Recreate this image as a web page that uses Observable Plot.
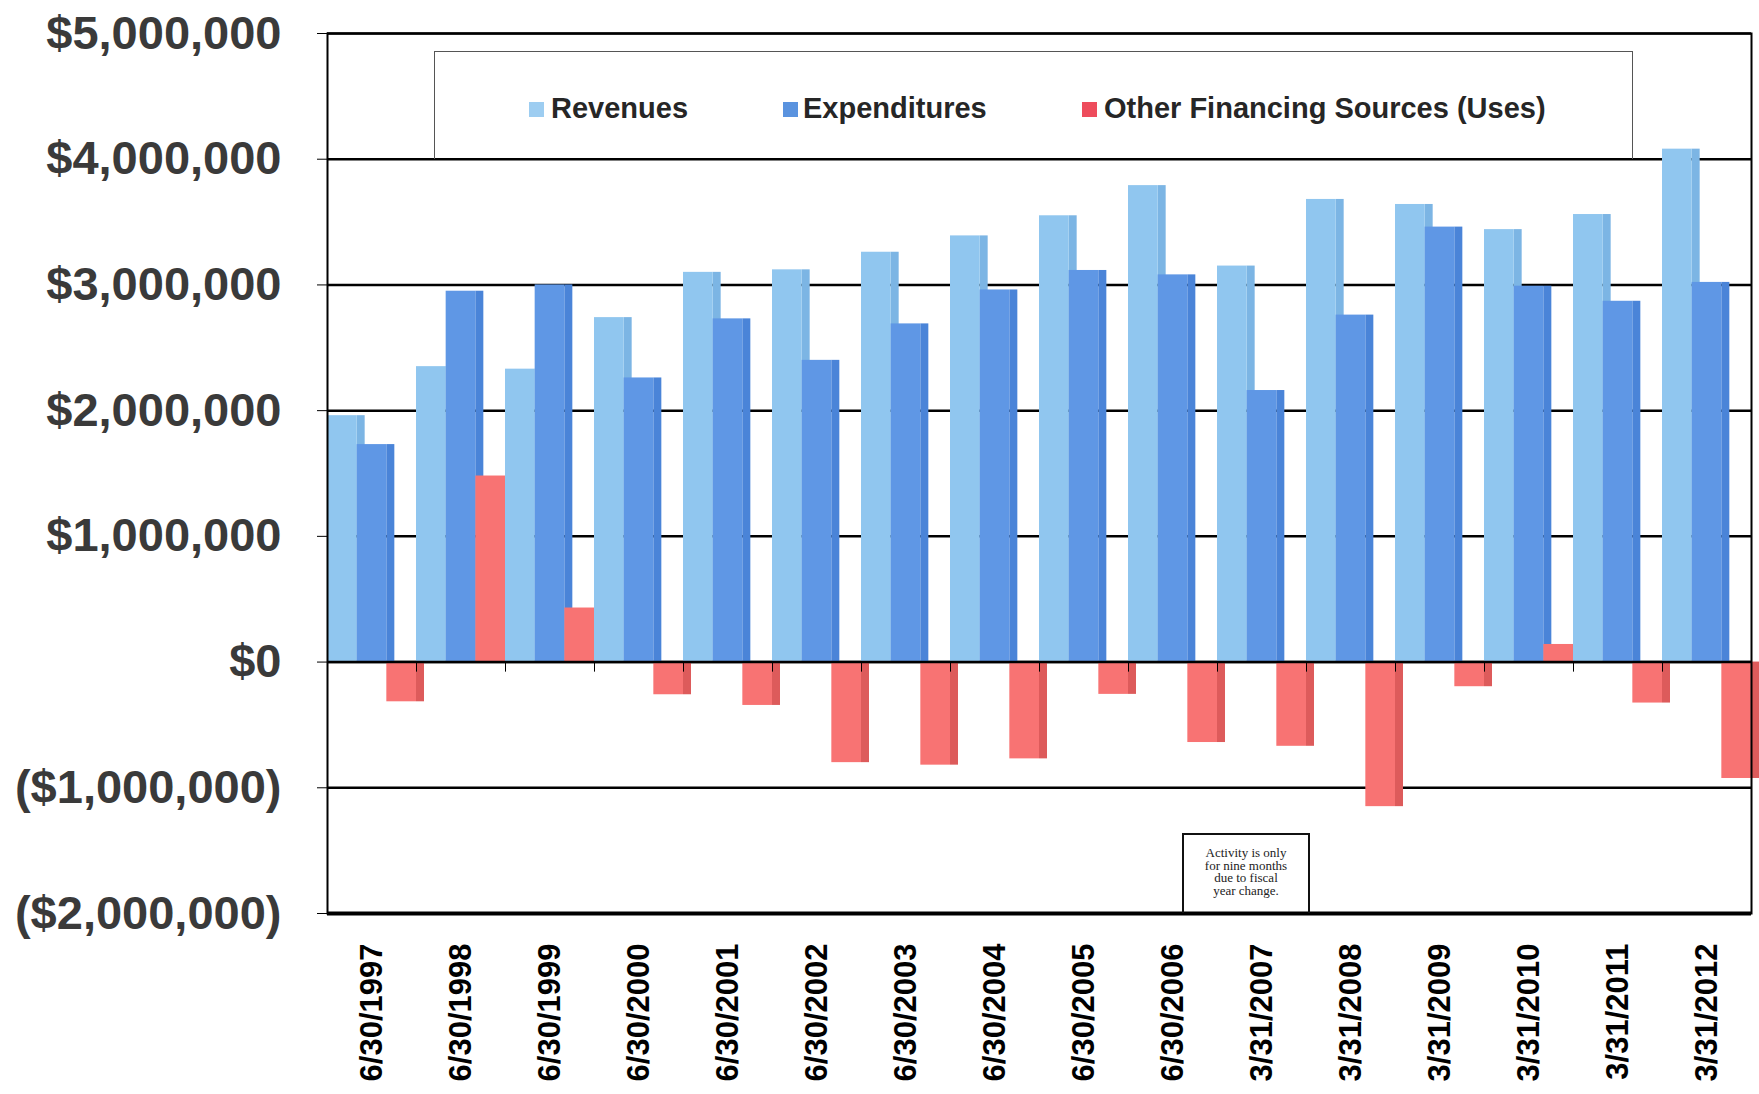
<!DOCTYPE html>
<html>
<head>
<meta charset="utf-8">
<script src="https://cdn.jsdelivr.net/npm/d3@7"></script>
<script src="https://cdn.jsdelivr.net/npm/@observablehq/plot@0.6"></script>
<style>
  body { margin: 0; background: #fff; }
  #wrap { position: relative; width: 1759px; height: 1094px; overflow: hidden; background: #fff; }
  #chart { position: absolute; left: 0; top: 0; }
  #legend { position: absolute; left: 434px; top: 51px; width: 1199px; height: 108px; border: 1.5px solid #555; border-bottom: none; box-sizing: border-box; background: transparent;
    font-family: "Liberation Sans", Arial, sans-serif; font-weight: bold; font-size: 29px; color: #262626; }
  .item { position: absolute; top: 38px; height: 36px; line-height: 36px; white-space: nowrap; }
  .sw { position: absolute; top: 50px; width: 15px; height: 15px; }
  #note { position: absolute; left: 1182px; top: 833px; width: 128px; height: 80px; border: 2px solid #111; border-bottom: none; box-sizing: border-box; background: transparent;
    font-family: "Liberation Serif", "Times New Roman", serif; font-size: 13px; line-height: 12.5px; color: #222; text-align: center; padding-top: 12px; }
  svg [aria-label="x-axis tick label"] text, svg [aria-label="y-axis tick label"] text { font-weight: bold; }
</style>
</head>
<body>
<div id="wrap">
  <div id="chart"></div>
  <div id="legend"></div>
  <div id="note">Activity is only<br>for nine months<br>due to fiscal<br>year change.</div>
</div>
<script>
const dates = ["6/30/1997","6/30/1998","6/30/1999","6/30/2000","6/30/2001","6/30/2002","6/30/2003","6/30/2004","6/30/2005","6/30/2006","3/31/2007","3/31/2008","3/31/2009","3/31/2010","3/31/2011","3/31/2012"];
const revenues = [1960000, 2350000, 2330000, 2740000, 3100000, 3120000, 3260000, 3390000, 3550000, 3790000, 3150000, 3680000, 3640000, 3440000, 3560000, 4080000];
const expenditures = [1730000, 2950000, 3000000, 2260000, 2730000, 2400000, 2690000, 2960000, 3115000, 3080000, 2160000, 2760000, 3460000, 2990000, 2870000, 3020000];
const otherFinancing = [-316000, 1480000, 430000, -260000, -345000, -800000, -820000, -770000, -257000, -640000, -670000, -1150000, -196000, 140000, -326000, -926000];
const seriesNames = ["Revenues", "Expenditures", "Other Financing Sources (Uses)"];
const frontColors = ["#90c6ef", "#5f97e5", "#f87373"];
const sideColors = ["#7cb5e4", "#4a84d8", "#dd5b5b"];
const legendColors = ["#9dcdf1", "#5a93df", "#ee4c5c"];
const yTicks = [-2000000, -1000000, 0, 1000000, 2000000, 3000000, 4000000, 5000000];

const values = [revenues, expenditures, otherFinancing];
const W = 1759, H = 1094, mL = 327, mR = 8, mT = 33, mB = 181;
const bw = (W - mL - mR) / dates.length;   // band width of one date group
const third = bw / 3;
const depth = 8;

const rows = values.map(vals => dates.map((d, i) => ({date: d, value: vals[i]})));

const fmt = d3.format(",");
const yFormat = d => d < 0 ? `($${fmt(-d)})` : `$${fmt(d)}`;

const sideMarks = rows.map((r, s) => Plot.barY(r, {x: "date", y: "value", fill: sideColors[s],
  insetLeft: third * (s + 1), insetRight: third * (2 - s) - depth}));
const frontMarks = rows.map((r, s) => Plot.barY(r, {x: "date", y: "value", fill: frontColors[s],
  insetLeft: third * s, insetRight: third * (2 - s)}));

const chart = Plot.plot({
  width: W, height: H,
  marginLeft: mL, marginRight: mR, marginTop: mT, marginBottom: mB,
  style: {fontFamily: "'Liberation Sans', Arial, sans-serif", background: "transparent"},
  x: {domain: dates, padding: 0},
  y: {domain: [-2000000, 5000000]},
  marks: [
    Plot.ruleY(yTicks, {stroke: "#000", strokeWidth: 2.5}),
    ...sideMarks,
    ...frontMarks,
    Plot.ruleY([0], {stroke: "#000", strokeWidth: 2.5}),
    Plot.ruleX(dates.slice(1), {x: d => d, dx: -bw / 2, y1: 0, y2: -80000, stroke: "#000", strokeWidth: 1}),
    Plot.ruleY([-2000000], {stroke: "#000", strokeWidth: 4}),
    Plot.frame({stroke: "#000", strokeWidth: 2}),
    Plot.axisY({ticks: yTicks, tickFormat: yFormat, tickSize: 10, tickPadding: 36, fontSize: 47, fontWeight: "bold", fill: "#3a3a3a", stroke: "#000", label: null}),
    Plot.axisX({tickRotate: -90, tickSize: 0, tickPadding: 30, fontSize: 31, fontWeight: "bold", fill: "#000", label: null})
  ]
});
document.getElementById("chart").appendChild(chart);

// legend
const legend = document.getElementById("legend");
const swX = [94, 348, 647];
const txX = [116, 368, 669];
seriesNames.forEach((name, i) => {
  const sw = document.createElement("div");
  sw.className = "sw"; sw.style.left = swX[i] + "px"; sw.style.background = legendColors[i];
  legend.appendChild(sw);
  const t = document.createElement("div");
  t.className = "item"; t.style.left = txX[i] + "px"; t.textContent = name;
  legend.appendChild(t);
});
</script>
</body>
</html>
